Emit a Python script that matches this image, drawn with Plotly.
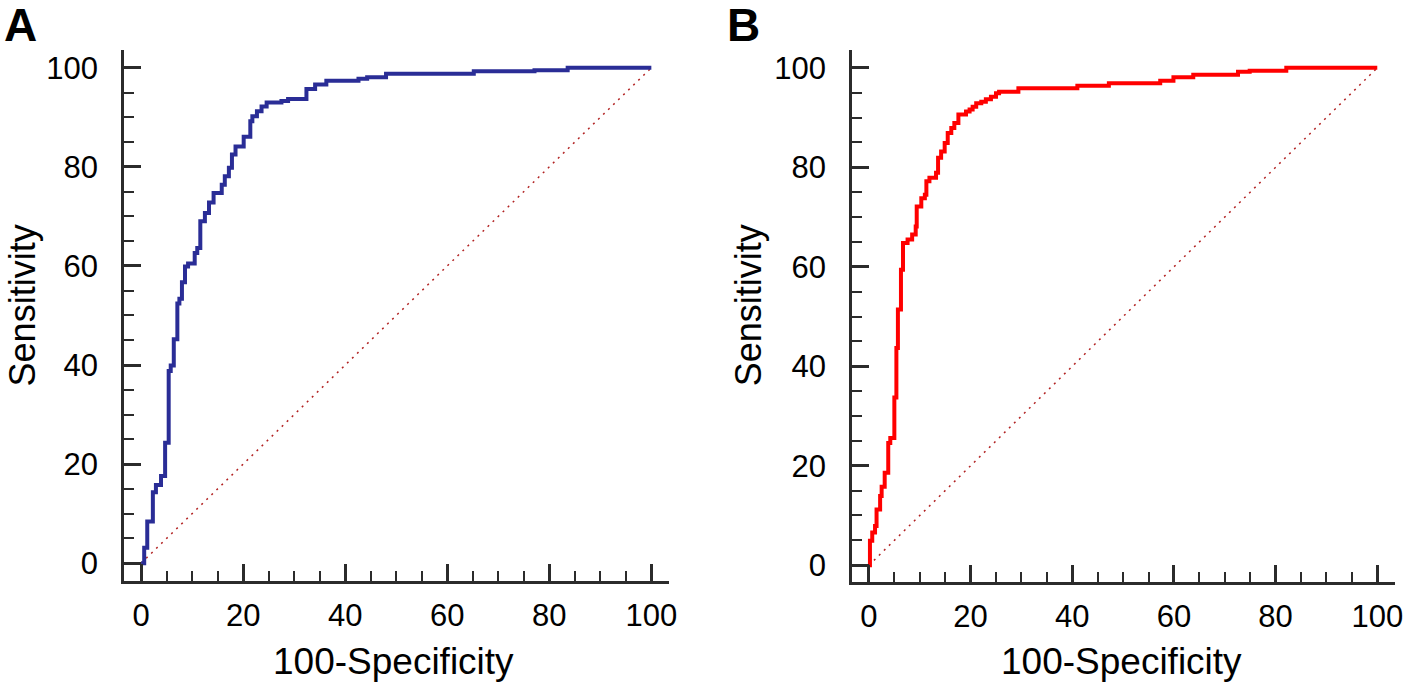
import plotly.graph_objects as go

# Panel A ROC (100-Specificity vs Sensitivity)
a_fpr = [0, 0.6, 1.2, 2.3, 2.9, 3.9, 4.7, 5.4, 5.8, 6.4, 7.1, 7.5, 8.0, 8.6, 9.2, 10.5, 11.0, 11.6,
         12.5, 13.3, 14.2, 15.8, 16.4, 17.2, 17.8, 18.5, 20.1, 21.4, 21.8, 22.7, 23.6, 24.6, 27.5,
         28.8, 32.4, 34.1, 36.3, 42.6, 44.3, 48.0, 65.2, 77.1, 83.6, 100]
a_sens = [0, 3.1, 8.4, 14.3, 15.8, 17.6, 24.3, 38.8, 39.9, 45.2, 52.4, 53.4, 56.7, 59.9, 60.5, 62.6,
          63.6, 69.0, 70.7, 72.8, 74.7, 76.4, 78.1, 79.8, 82.5, 84.1, 86.1, 89.2, 90.2, 91.2, 92.2,
          93.0, 93.3, 93.7, 95.7, 96.6, 97.4, 97.8, 98.1, 98.8, 99.3, 99.5, 100, 100]

# Panel B ROC
b_fpr = [0, 0.2, 0.65, 1.2, 1.5, 2.2, 2.5, 3.1, 3.8, 4.2, 5.0, 5.4, 5.7, 6.3, 6.7, 7.6, 8.5, 9.2,
         9.4, 10.3, 11.0, 11.3, 11.9, 13.2, 13.6, 14.2, 14.9, 15.5, 16.2, 16.8, 17.6, 19.1, 19.8,
         20.4, 21.1, 22.1, 23.0, 24.0, 25.0, 25.6, 29.4, 41.0, 47.2, 57.3, 59.9, 63.8, 72.6, 74.9,
         82.1, 100]
b_sens = [0, 4.9, 6.6, 7.9, 11.2, 13.9, 15.8, 18.6, 24.6, 25.6, 33.7, 43.7, 51.4, 59.4, 64.8, 65.5,
          66.5, 68.1, 72.1, 73.8, 74.5, 77.2, 77.9, 78.9, 81.9, 83.2, 84.9, 86.9, 87.9, 88.9, 90.6,
          91.2, 91.6, 92.2, 92.9, 93.2, 93.7, 94.2, 94.9, 95.2, 95.9, 96.4, 96.9, 97.4, 98.1, 98.6,
          99.2, 99.4, 100, 100]

diag = [0, 100]
tick_vals = [0, 20, 40, 60, 80, 100]
panel_labels = ["A", "B"]
x_title = "100-Specificity"
y_title = "Sensitivity"

W, H = 1416, 688
FONT = "Arial, Liberation Sans, sans-serif"
AXC = "#2b2b2b"


def px(v):
    return v / W


def py(v):
    return 1 - v / H


fig = go.Figure()

panels = [
    dict(fpr=a_fpr, sens=a_sens, color="#2A2D96", width=4, xa="x", ya="y",
         left=125, right=673, top=50, bottom=582, xr=[-3.3, 103.5], yr=[-3.63, 103.6],
         lab_x=21, ytitle_x=23, xtitle_x=396),
    dict(fpr=b_fpr, sens=b_sens, color="#FF0000", width=4, xa="x2", ya="y2",
         left=857, right=1403, top=50, bottom=583, xr=[-3.3, 103.5], yr=[-3.4, 103.6],
         lab_x=748, ytitle_x=753, xtitle_x=1128),
]

annotations = []
for i, p in enumerate(panels):
    fig.add_trace(go.Scatter(x=diag, y=diag, mode="lines", xaxis=p["xa"], yaxis=p["ya"],
                             line=dict(color="#B22222", width=1.5, dash="2px,5px"),
                             showlegend=False, hoverinfo="skip"))
    fig.add_trace(go.Scatter(x=p["fpr"], y=p["sens"], mode="lines", xaxis=p["xa"], yaxis=p["ya"],
                             line=dict(color=p["color"], width=p["width"], shape="hv"),
                             showlegend=False))
    common = dict(showline=True, linecolor=AXC, linewidth=3, ticks="inside", ticklen=17,
                  tickwidth=3, tickcolor=AXC, showgrid=False, zeroline=False,
                  tickvals=tick_vals, tickfont=dict(family=FONT, size=31, color="black"),
                  minor=dict(ticks="inside", ticklen=10, tickwidth=2, tickcolor=AXC, dtick=5,
                             tick0=0, showgrid=False),
                  fixedrange=True)
    xname = "xaxis" if i == 0 else "xaxis2"
    yname = "yaxis" if i == 0 else "yaxis2"
    fig.layout[xname] = dict(common, range=p["xr"], domain=[px(p["left"]), px(p["right"])],
                             anchor=p["ya"], ticklabelstandoff=5)
    fig.layout[yname] = dict(common, range=p["yr"], domain=[py(p["bottom"]), py(p["top"])],
                             anchor=p["xa"], ticklabelstandoff=17)
    annotations.append(dict(text=panel_labels[i], x=px(p["lab_x"]), y=py(25), xref="paper",
                            yref="paper", showarrow=False, xanchor="center", yanchor="middle",
                            font=dict(family=FONT, size=46, color="black", weight="bold")))
    annotations.append(dict(text=y_title, x=px(p["ytitle_x"]), y=py(306), xref="paper",
                            yref="paper", showarrow=False, textangle=-90, xanchor="center",
                            yanchor="middle", font=dict(family=FONT, size=36, color="black")))
    annotations.append(dict(text=x_title, x=px(p["xtitle_x"]), y=py(662), xref="paper",
                            yref="paper", showarrow=False, xanchor="center", yanchor="middle",
                            font=dict(family=FONT, size=37, color="black")))

fig.update_layout(width=W, height=H, margin=dict(l=0, r=0, t=0, b=0),
                  paper_bgcolor="white", plot_bgcolor="white", annotations=annotations)

fig.write_html("out.html", config={"displayModeBar": False},
               post_script="document.body.style.margin='0';document.body.style.overflow='hidden';")
